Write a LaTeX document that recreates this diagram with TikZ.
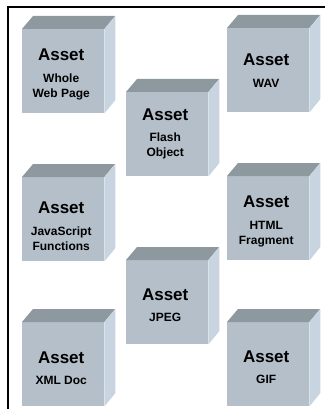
\documentclass[tikz,border=0pt]{standalone}
\usepackage{fontspec}
\setmainfont{Liberation Sans}
\definecolor{topc}{HTML}{8D989F}
\definecolor{frontc}{HTML}{B4BFCA}
\definecolor{sidec}{HTML}{C8D4DF}
\begin{document}
\begin{tikzpicture}[x=1pt,y=-1pt,
  front/.style={fill=frontc,draw=none,minimum width=82pt,minimum height=84pt,anchor=north west,inner sep=0pt},
  title/.style={font=\bfseries\fontsize{17}{19}\selectfont,inner sep=0pt},
  sub/.style={font=\bfseries\fontsize{12}{15}\selectfont,align=center,inner sep=0pt}]
\useasboundingbox (0,0) rectangle (325,409);
\newcommand\assetbox[6]{%
  \node[front] (#1) at (#2,#3) {};
  \fill[topc] (#1.north west) -- ++(11,-13) -- ++(82,0) -- (#1.north east) -- cycle;
  \fill[sidec] (#1.north east) -- ++(11,-13) -- ++(0,84) -- (#1.south east) -- cycle;
  \node[title] (#1t) at ([xshift=-2pt,yshift=-#4pt]#1.north) {Asset};
  \node[sub] (#1s) at ([xshift=-2pt,yshift=-#5pt]#1.north) {#6};
}
\assetbox{wwp}{22}{29}{26}{57.5}{Whole\\Web Page}
\assetbox{wav}{227}{28}{32}{55}{WAV}
\assetbox{flash}{126}{92}{23}{54}{Flash\\Object}
\assetbox{js}{22}{177}{31}{61.5}{JavaScript\\Functions}
\assetbox{html}{227}{176}{26}{58.5}{HTML\\Fragment}
\assetbox{jpeg}{126}{260}{35}{57}{JPEG}
\assetbox{xml}{22}{322}{36}{58}{XML Doc}
\assetbox{gif}{227}{322}{35}{57}{GIF}
\coordinate (fa) at (325,7);
\coordinate (fb) at (8,7);
\coordinate (fc) at (8,409);
\draw[line width=2pt] (fa) -- (fb) -- (fc);
\end{tikzpicture}
\end{document}
